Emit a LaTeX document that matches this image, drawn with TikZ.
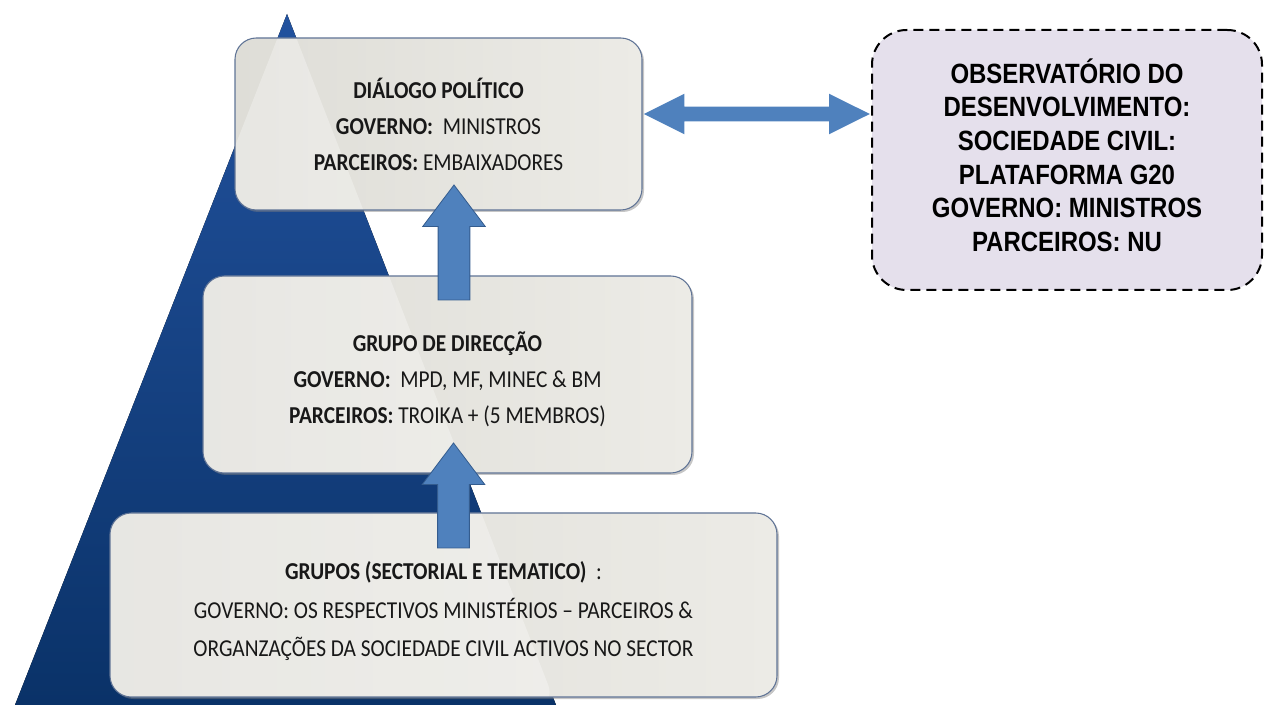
\documentclass[tikz,border=0pt]{standalone}
\usepackage{fontspec}
\setmainfont{Carlito}[FakeStretch=0.88]
\newfontfamily\obsfont{Liberation Sans}[FakeStretch=0.86]
\usetikzlibrary{calc,shapes.arrows,shadows}
\definecolor{navy}{RGB}{10,50,104}
\definecolor{navytop}{RGB}{34,82,158}
\definecolor{boxgrey}{RGB}{222,221,215}
\definecolor{boxlight}{RGB}{236,235,230}
\definecolor{boxline}{RGB}{96,116,150}
\definecolor{arrowblue}{RGB}{79,129,189}
\definecolor{arrowline}{RGB}{52,92,142}
\definecolor{obsfill}{RGB}{229,224,236}
\definecolor{inktext}{RGB}{24,24,24}

\begin{document}
\begin{tikzpicture}[x=0.75pt,y=0.75pt,yscale=-1,xscale=1,
  level/.style={draw=boxline, line width=0.8pt, rounded corners=16pt,
    left color=boxgrey, right color=boxlight, text=inktext,
    align=center, inner sep=0pt, font=\fontsize{18.2}{27}\selectfont,
    drop shadow={shadow xshift=1.5pt, shadow yshift=-1.5pt, opacity=0.45},
    path picture={\fill[white, fill opacity=0.3] (apex) -- (baseR) -- (baseL) -- cycle;}},
  observ/.style={draw=black, line width=1.5pt, dash pattern=on 7.5pt off 4.5pt,
    rounded corners=26pt, fill=obsfill, align=center, inner sep=0pt,
    font=\obsfont\bfseries\fontsize{20.9}{25.2}\selectfont},
  uparrow/.style={single arrow, rotate=90, draw=arrowline, line width=0.6pt, fill=arrowblue,
    inner xsep=0pt, inner ysep=11.6pt, single arrow head extend=11.6pt,
    single arrow tip angle=74},
  linkarrow/.style={double arrow, fill=arrowblue, draw=none, inner xsep=0pt, inner ysep=5.25pt,
    double arrow head extend=9.75pt, double arrow tip angle=53,
    minimum height=169.5pt}]
\path[use as bounding box] (0,0) rectangle (1264,705);

% Pyramid
\coordinate (apex) at (287,14);
\coordinate (baseR) at (556,705);
\coordinate (baseL) at (15,705);
\fill[top color=navytop, bottom color=navy] (apex) -- (baseR) -- (baseL) -- cycle;

% Levels
\node[level, minimum width=305.25pt, minimum height=129pt] (dialogo) at (438.5,124)
  {{\bfseries DIÁLOGO POLÍTICO}\\{\bfseries GOVERNO:}\ \ MINISTROS\\{\bfseries PARCEIROS:} EMBAIXADORES};
\node[level, minimum width=366.75pt, minimum height=147.75pt] (direccao) at (447.5,374.5)
  {\rule{0pt}{22pt}{\bfseries GRUPO DE DIRECÇÃO}\\{\bfseries GOVERNO:}\ \ MPD, MF, MINEC \& BM\\{\bfseries PARCEIROS:} TROIKA + (5 MEMBROS)};
\node[level, minimum width=500.25pt, minimum height=138pt,
  font=\fontsize{18.2}{28.8}\selectfont] (grupos) at (443.5,605)
  {\rule{0pt}{23pt}{\bfseries GRUPOS (SECTORIAL E TEMATICO)}\ \ :\\GOVERNO: OS RESPECTIVOS MINISTÉRIOS -- PARCEIROS \&\\ORGANZAÇÕES DA SOCIEDADE CIVIL ACTIVOS NO SECTOR};

% Observatorio
\node[observ, minimum width=292.5pt, minimum height=195pt] (observ) at (1067,160)
  {OBSERVATÓRIO DO\\DESENVOLVIMENTO:\\SOCIEDADE CIVIL:\\PLATAFORMA G20\\GOVERNO: MINISTROS\\PARCEIROS: NU\rule[-7.5pt]{0pt}{0pt}};

% Connection
\node[uparrow, minimum height=86.25pt] (up1) at ($(dialogo.south)!0.5!(direccao.north)+(11,10)$) {};
% Connection
\node[uparrow, minimum height=78.75pt] (up2) at ($(direccao.south)!0.5!(grupos.north)+(8,13)$) {};
% Connection
\node[linkarrow] (link) at ($(dialogo.east)!0.5!(dialogo.east -| observ.west)+(0,-10)$) {};

\end{tikzpicture}
\end{document}
